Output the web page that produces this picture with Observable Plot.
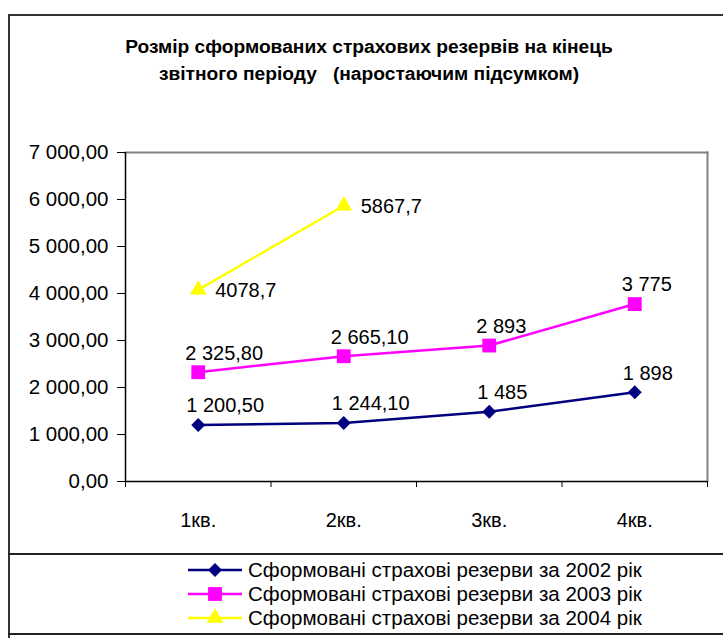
<!DOCTYPE html>
<html>
<head>
<meta charset="utf-8">
<script src="https://cdn.jsdelivr.net/npm/d3@7"></script>
<script src="https://cdn.jsdelivr.net/npm/@observablehq/plot@0.6"></script>
<style>
  html, body { margin: 0; padding: 0; background: #fff; width: 723px; height: 638px; overflow: hidden; }
  body { position: relative; font-family: "Liberation Sans", Arial, sans-serif; color: #000; }
  .frame-left { position: absolute; left: 8px; top: 14px; width: 2px; height: 630px; background: #333; }
  .frame-top { position: absolute; left: 8px; top: 14px; width: 720px; height: 2px; background: #333; }
  .legend-top { position: absolute; left: 8px; top: 553px; width: 720px; height: 2px; background: #222; }
  .legend-bottom { position: absolute; left: 8px; top: 633px; width: 720px; height: 2px; background: #222; }
  #title { position: absolute; left: 10px; width: 718px; top: 33px; text-align: center; font-weight: bold; font-size: 19.2px; line-height: 27px; }
  #chart { position: absolute; left: 0; top: 100px; }
  #legend { position: absolute; left: 188px; top: 558px; font-size: 20.5px; }
  .row { height: 24px; display: flex; align-items: center; white-space: nowrap; }
  .row svg { margin-right: 4px; flex: none; }
</style>
</head>
<body>
<div class="frame-left"></div>
<div class="frame-top"></div>
<div id="title">Розмір сформованих страхових резервів на кінець<br>звітного періоду&nbsp;&nbsp; (наростаючим підсумком)</div>
<div id="chart"></div>
<div class="legend-top"></div>
<div class="legend-bottom"></div>
<div id="legend"></div>
<script>
// ---- data ----
const quarters = ["1кв.", "2кв.", "3кв.", "4кв."];
const reserves2002 = [1200.5, 1244.1, 1485, 1898];
const reserves2003 = [2325.8, 2665.1, 2893, 3775];
const reserves2004 = [4078.7, 5867.7];
const labels2002 = ["1 200,50", "1 244,10", "1 485", "1 898"];
const labels2003 = ["2 325,80", "2 665,10", "2 893", "3 775"];
const labels2004 = ["4078,7", "5867,7"];
const seriesNames = [
  "Сформовані страхові резерви за 2002 рік",
  "Сформовані страхові резерви за 2003 рік",
  "Сформовані страхові резерви за 2004 рік"
];
const yTicks = [0, 1000, 2000, 3000, 4000, 5000, 6000, 7000];

const colors = ["#000080", "#FF00FF", "#FFFF00"];
const symbols = ["diamond2", "square", "triangle"];
const radii = [6.3, 7.8, 6.2];

const toRows = (vals, labels) => vals.map((v, i) => ({q: i + 0.5, v, label: labels[i]}));
const s2002 = toRows(reserves2002, labels2002);
const s2003 = toRows(reserves2003, labels2003);
const s2004 = toRows(reserves2004, labels2004);

const uaFormat = d3.formatLocale({decimal: ",", thousands: " ", grouping: [3], currency: ["", ""]}).format(",.2f");
const font = "'Liberation Sans', Arial, sans-serif";

const lineMarks = (data, k) => [
  Plot.line(data, {x: "q", y: "v", stroke: colors[k], strokeWidth: 2.5}),
  Plot.dot(data, {x: "q", y: "v", symbol: () => symbols[k], r: radii[k], fill: colors[k], stroke: "none"})
];

const chart = Plot.plot({
  width: 723,
  height: 454,
  marginLeft: 125,
  marginRight: 16,
  marginTop: 52,
  marginBottom: 73,
  style: {fontFamily: font, fontSize: "20px", background: "transparent", color: "#000"},
  x: {type: "linear", domain: [0, 4]},
  y: {domain: [0, 7000]},
  symbol: {type: "identity"},
  marks: [
    Plot.frame({anchor: "top", stroke: "#808080", strokeWidth: 2}),
    Plot.frame({anchor: "right", stroke: "#808080", strokeWidth: 2}),
    Plot.axisY({ticks: yTicks, tickFormat: uaFormat, tickSize: 8, tickPadding: 9, label: null, fontSize: 20.5}),
    Plot.axisX({ticks: [0, 1, 2, 3, 4], tickFormat: () => "", tickSize: 6, label: null}),
    Plot.axisX({ticks: [0.5, 1.5, 2.5, 3.5], tickFormat: (d) => quarters[Math.floor(d)], tickSize: 0, tickPadding: 31, label: null, fontSize: 20}),
    Plot.ruleY([0], {stroke: "#000", strokeWidth: 1.5}),
    Plot.ruleX([0], {stroke: "#000", strokeWidth: 1.5}),
    ...lineMarks(s2002, 0),
    ...lineMarks(s2003, 1),
    ...lineMarks(s2004, 2),
    Plot.text(s2002, {x: "q", y: "v", text: "label", textAnchor: "start", dx: -12, dy: -19, fontSize: 20, fill: "#000"}),
    Plot.text(s2003, {x: "q", y: "v", text: "label", textAnchor: "start", dx: -13, dy: -19, fontSize: 20, fill: "#000"}),
    Plot.text(s2004, {x: "q", y: "v", text: "label", textAnchor: "start", dx: 17, dy: 1, fontSize: 20, fill: "#000"})
  ]
});
document.getElementById("chart").appendChild(chart);

// ---- legend ----
const legend = document.getElementById("legend");
const ns = "http://www.w3.org/2000/svg";
seriesNames.forEach((name, k) => {
  const row = document.createElement("div");
  row.className = "row";
  const svg = document.createElementNS(ns, "svg");
  svg.setAttribute("width", 56);
  svg.setAttribute("height", 20);
  const line = document.createElementNS(ns, "line");
  line.setAttribute("x1", 0); line.setAttribute("x2", 54);
  line.setAttribute("y1", 10); line.setAttribute("y2", 10);
  line.setAttribute("stroke", colors[k]); line.setAttribute("stroke-width", 2.5);
  svg.appendChild(line);
  const sym = document.createElementNS(ns, "path");
  const symType = {diamond2: d3.symbolDiamond2, square: d3.symbolSquare, triangle: d3.symbolTriangle}[symbols[k]];
  sym.setAttribute("d", d3.symbol(symType, Math.PI * radii[k] * radii[k])());
  sym.setAttribute("transform", "translate(27,10)");
  sym.setAttribute("fill", colors[k]);
  svg.appendChild(sym);
  row.appendChild(svg);
  const span = document.createElement("span");
  span.textContent = name;
  row.appendChild(span);
  legend.appendChild(row);
});
</script>
</body>
</html>
